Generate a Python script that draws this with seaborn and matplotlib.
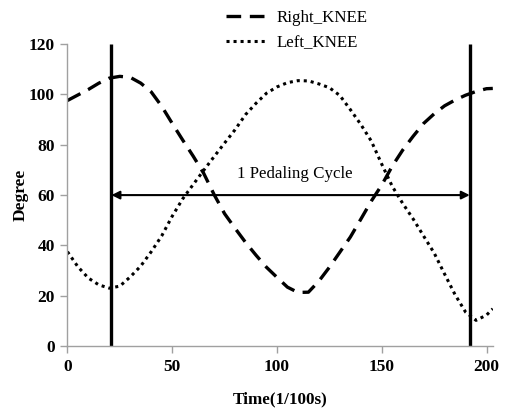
import numpy as np
import pandas as pd
import matplotlib
matplotlib.use('Agg')
import matplotlib.pyplot as plt
import seaborn as sns

# knee angle over one recording
time = [0, 5, 10, 15, 20, 25, 30, 35, 40, 45, 50, 55, 60, 65, 70, 75, 80, 85, 90, 95,
        100, 105, 110, 115, 120, 125, 130, 135, 140, 145, 150, 155, 160, 165, 170, 175,
        180, 185, 190, 195, 200, 203]
right_knee = [97.6, 99.8, 102, 104.5, 106.5, 107.2, 106.8, 104.5, 101, 95.3, 88.5, 81.9,
              75.5, 68.7, 60.2, 52.6, 46.8, 41.2, 36.1, 31.3, 27.3, 23.4, 21.3, 21.4, 25.8,
              31.3, 37.3, 43.3, 50.4, 57.6, 64, 71.5, 77.9, 83.4, 88.5, 92.3, 95.5, 97.8,
              99.7, 101.2, 102.3, 102.4]
left_knee = [37.5, 31.5, 27, 24.3, 23, 23.8, 27.5, 31.8, 37.5, 43.8, 51.6, 58.5, 64.2,
             69.8, 75.3, 80.7, 86, 92, 96.5, 100.5, 103, 104.7, 105.5, 105.4, 104.2,
             102.7, 99.6, 94, 88.1, 81.5, 72.3, 63.5, 56.7, 50.5, 43.7, 37, 28.6, 20.4,
             13.5, 10.2, 12.3, 14.8]
cycle_start, cycle_end = 21, 192
cycle_label = "1 Pedaling Cycle"

df = pd.DataFrame({'time': time, 'right': right_knee, 'left': left_knee})

sns.set_style("white")
plt.rcParams['font.family'] = ['Liberation Serif', 'DejaVu Serif']
plt.rcParams['text.color'] = 'black'

fig, ax = plt.subplots(figsize=(5.07, 4.09), dpi=100)
fig.subplots_adjust(left=0.133, right=0.972, bottom=0.154, top=0.892)

sns.lineplot(data=df, x='time', y='right', ax=ax, color='black', lw=2.4,
             linestyle=(0, (4.4, 2.6)), label='Right_KNEE')
sns.lineplot(data=df, x='time', y='left', ax=ax, color='black', lw=2.2,
             linestyle=(0, (1, 1.3)), label='Left_KNEE')

# cycle markers
for xc in (cycle_start, cycle_end):
    ax.plot([xc, xc], [0, 120], color='black', lw=2.4, solid_capstyle='butt')
ax.annotate('', xy=(cycle_start, 60), xytext=(cycle_end, 60),
            arrowprops=dict(arrowstyle='<|-|>', color='black', lw=1.5,
                            mutation_scale=12, shrinkA=0, shrinkB=0))
ax.text((cycle_start + cycle_end) / 2 + 2, 68.5, cycle_label, ha='center', va='center',
        fontsize=12.2)

ax.set_xlim(0, 203)
ax.set_ylim(0, 120)
ax.set_xticks([0, 50, 100, 150, 200])
ax.set_yticks(range(0, 121, 20))
ax.set_xlabel('Time(1/100s)', fontsize=12.3, fontweight='bold', labelpad=12, color='black')
ax.set_ylabel('Degree', fontsize=12.5, fontweight='bold', labelpad=0, color='black')
ax.tick_params(axis='both', labelsize=12.5, length=5, width=1, color='#a0a0a0',
               labelcolor='black', direction='out', pad=4)
for lab in ax.get_xticklabels() + ax.get_yticklabels():
    lab.set_fontweight('bold')
for side in ('top', 'right'):
    ax.spines[side].set_visible(False)
for side in ('left', 'bottom'):
    ax.spines[side].set_color('#a0a0a0')
    ax.spines[side].set_linewidth(1)
ax.tick_params(left=True, bottom=True)

ax.get_legend().remove()
handles, labels = ax.get_legend_handles_labels()
fig.legend(handles[:2], labels[:2], loc='center', bbox_to_anchor=(0.585, 0.926),
           frameon=False, fontsize=12.2, handlelength=2.5, handletextpad=0.5,
           labelspacing=0.55)

fig.savefig('out.png', dpi=100)
